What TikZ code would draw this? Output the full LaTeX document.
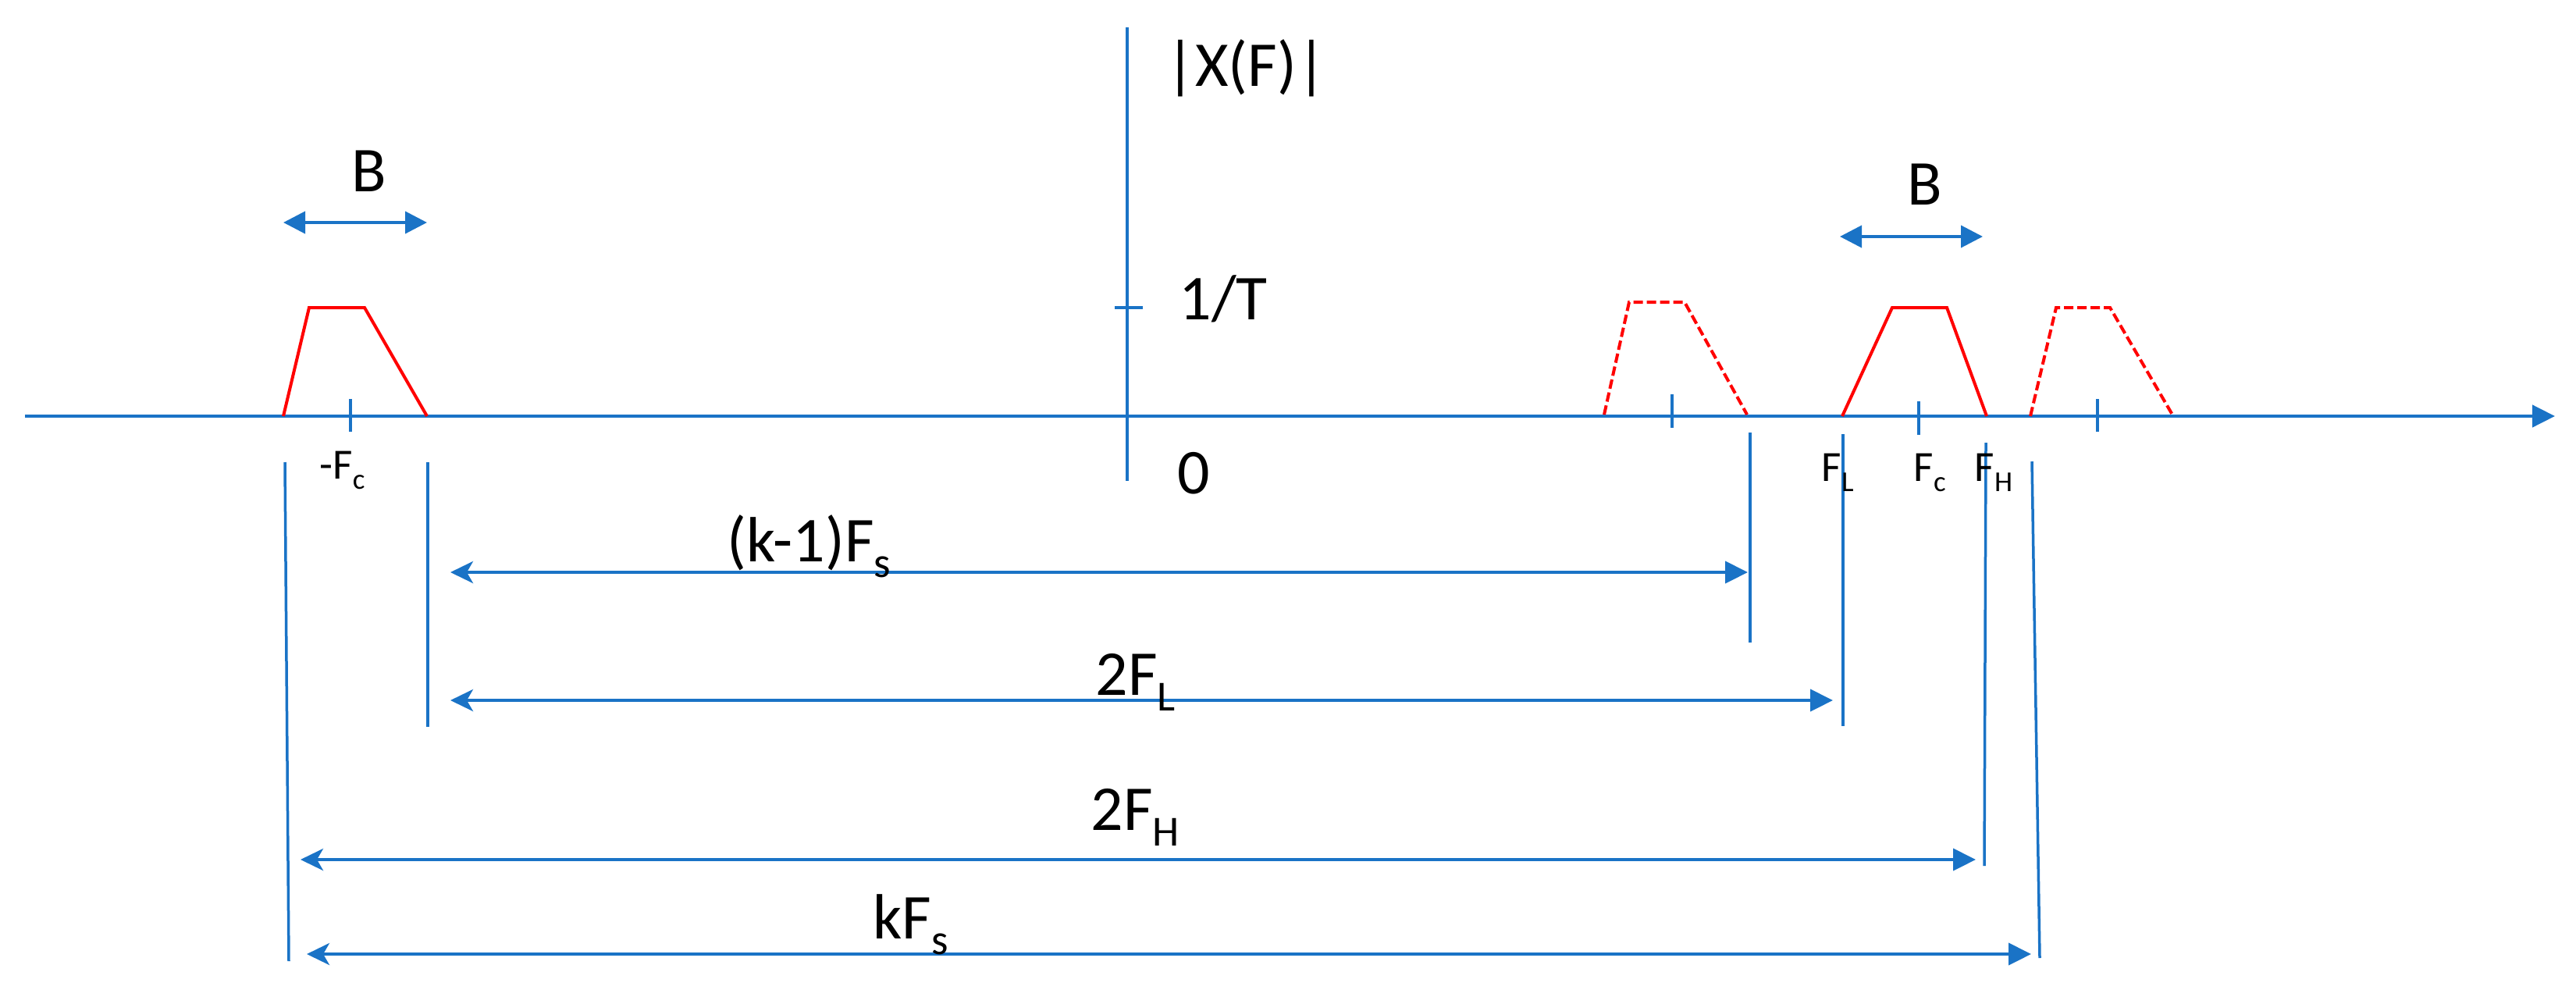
\documentclass[tikz,border=0pt]{standalone}
\usepackage{fontspec}
\usepackage{graphicx}
\setmainfont{Carlito}
\usetikzlibrary{arrows.meta}
\definecolor{axblue}{RGB}{26,115,198}
\newcommand{\lsub}[1]{\raisebox{-0.25em}{\scalebox{0.67}{#1}}}
\begin{document}
\begin{tikzpicture}[x=1cm,y=1cm,
  blueline/.style={draw=axblue, line width=0.035cm},
  axisline/.style={draw=axblue, line width=0.045cm},
  redline/.style={draw=red, line width=0.04cm, line join=miter},
  reddash/.style={redline, dash pattern=on 0.12cm off 0.05cm},
  lbl/.style={inner sep=0pt, anchor=base west, font=\fontsize{23.3}{28}\selectfont},
  slbl/.style={inner sep=0pt, anchor=base west, font=\fontsize{15.7}{19}\selectfont},
  dimarrow/.style={draw=axblue, line width=0.04cm, {Stealth[length=0.29cm,width=0.28cm,inset=0.08cm]}-{Triangle[length=0.29cm,width=0.28cm]}},
  barrow/.style={draw=axblue, line width=0.04cm, {Triangle[length=0.28cm,width=0.28cm]}-{Triangle[length=0.28cm,width=0.28cm]}}
]
\useasboundingbox (0,0) rectangle (33,-12.76);

% axes
\coordinate (axL) at (0.32,-5.33);
\coordinate (axR) at (32.73,-5.33);
\draw[axisline, -{Triangle[length=0.29cm,width=0.28cm]}] (axL) -- (axR);
\coordinate (vT) at (14.44,-0.35);
\coordinate (vB) at (14.44,-6.16);
\draw[blueline] (vT) -- (vB);
\coordinate (tL) at (14.28,-3.94);
\coordinate (tR) at (14.64,-3.94);
\draw[blueline] (tL) -- (tR);

% ticks on axis
\draw[blueline] (4.49,-5.11) -- (4.49,-5.53);
\draw[blueline] (21.42,-5.05) -- (21.42,-5.48);
\draw[blueline] (24.58,-5.14) -- (24.58,-5.57);
\draw[blueline] (26.87,-5.11) -- (26.87,-5.53);

% spectra
\draw[redline] (3.63,-5.33) -- (3.96,-3.94) -- (4.67,-3.94) -- (5.47,-5.33);
\draw[reddash] (20.55,-5.31) -- (20.87,-3.87) -- (21.58,-3.87) -- (22.38,-5.31);
\draw[redline] (23.60,-5.33) -- (24.24,-3.94) -- (24.94,-3.94) -- (25.45,-5.33);
\draw[reddash] (26.01,-5.33) -- (26.34,-3.94) -- (27.03,-3.94) -- (27.84,-5.33);

% bandwidth arrows
\coordinate (b1a) at (3.63,-2.85);
\coordinate (b1b) at (5.47,-2.85);
\draw[barrow] (b1a) -- (b1b);
\coordinate (b2a) at (23.57,-3.03);
\coordinate (b2b) at (25.40,-3.03);
\draw[barrow] (b2a) -- (b2b);

% vertical reference lines
\draw[blueline] (3.65,-5.92) -- (3.70,-12.31);
\draw[blueline] (5.48,-5.92) -- (5.48,-9.31);
\draw[blueline] (22.42,-5.54) -- (22.42,-8.23);
\draw[blueline] (23.61,-5.56) -- (23.61,-9.30);
\draw[blueline] (25.44,-5.67) -- (25.42,-11.09);
\draw[blueline] (26.03,-5.91) -- (26.13,-12.27);

% dimension arrows
\coordinate (d1a) at (5.77,-7.33);  \coordinate (d1b) at (22.39,-7.33);
\coordinate (d2a) at (5.77,-8.97);  \coordinate (d2b) at (23.48,-8.97);
\coordinate (d3a) at (3.85,-11.01); \coordinate (d3b) at (25.31,-11.01);
\coordinate (d4a) at (3.93,-12.22); \coordinate (d4b) at (26.02,-12.22);
\draw[dimarrow] (d1a) -- (d1b);
\draw[dimarrow] (d2a) -- (d2b);
\draw[dimarrow] (d3a) -- (d3b);
\draw[dimarrow] (d4a) -- (d4b);

% labels
\node[lbl] (lx) at (14.93,-1.10) {|X(F)|};
\node[lbl] (lt) at (15.10,-4.09) {1/T};
\node[lbl] (l0) at (15.08,-6.32) {0};
\node[lbl] (lb1) at (4.50,-2.45) {B};
\node[lbl] (lb2) at (24.43,-2.62) {B};
\node[slbl] (lfc1) at (4.09,-6.13) {-F\lsub{c}};
\node[slbl] (lfl) at (23.33,-6.16) {F\lsub{L}};
\node[slbl] (lfc) at (24.51,-6.16) {F\lsub{c}};
\node[slbl] (lfh) at (25.29,-6.16) {F\lsub{H}};
\node[lbl] (lk1) at (9.31,-7.19) {(k-1)F\lsub{s}};
\node[lbl] (l2fl) at (14.03,-8.90) {2F\lsub{L}};
\node[lbl] (l2fh) at (13.97,-10.63) {2F\lsub{H}};
\node[lbl] (lkf) at (11.18,-12.02) {kF\lsub{s}};
\end{tikzpicture}
\end{document}
